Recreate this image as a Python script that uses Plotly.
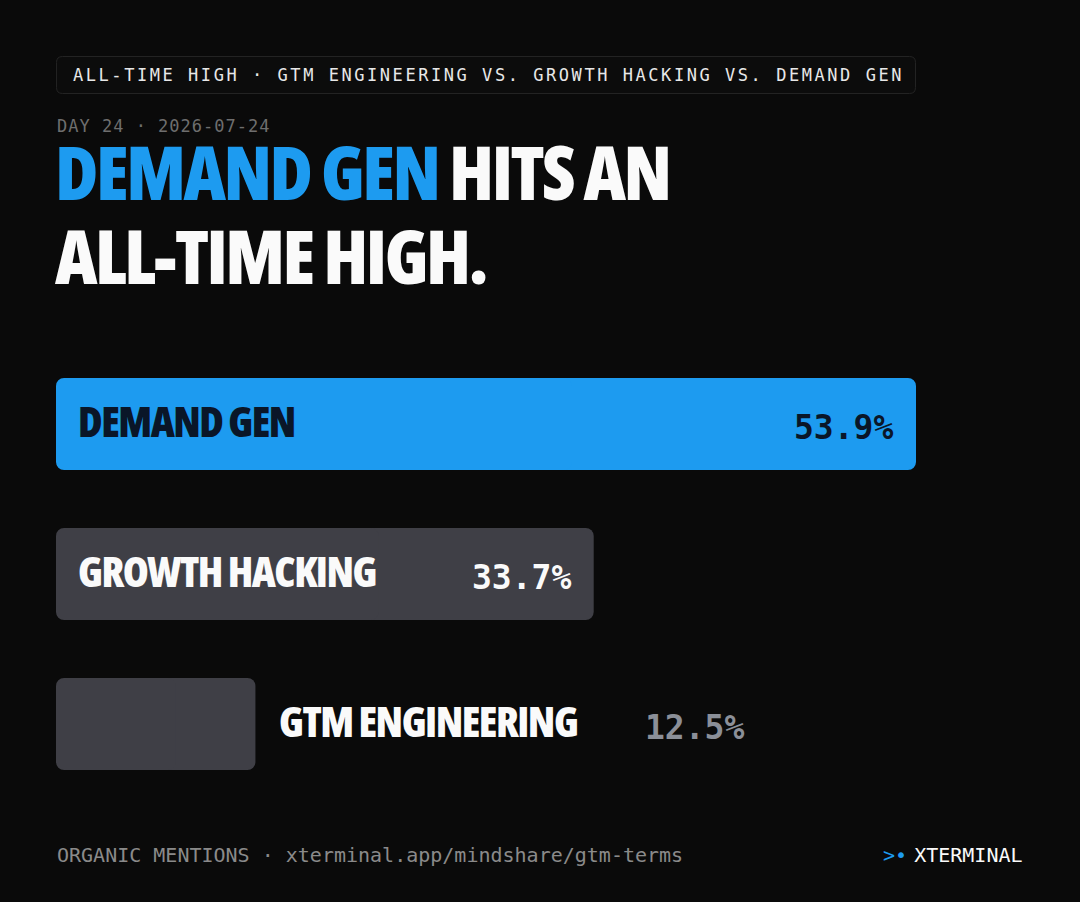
import plotly.graph_objects as go

# data
categories = ["DEMAND GEN", "GROWTH HACKING", "GTM ENGINEERING"]
shares = [53.9, 33.7, 12.5]
pct_labels = ["53.9%", "33.7%", "12.5%"]
badge_text = "ALL-TIME HIGH · GTM ENGINEERING VS. GROWTH HACKING VS. DEMAND GEN"
date_text = "DAY 24 · 2026-07-24"
title_hi = "DEMAND GEN"
title_rest = " HITS AN"
title_line2 = "ALL-TIME HIGH."
footer_text = "ORGANIC MENTIONS · xterminal.app/mindshare/gtm-terms"
brand_text = "XTERMINAL"

W, H = 1080, 902
BG = "#0a0a0a"
BLUE = "#1d9bf0"
GREY_BAR = "#3f3f46"
NAVY = "#0a1628"
COND = "Open Sans, Roboto Condensed, sans-serif"
MONO = "DejaVu Sans Mono, Liberation Mono, monospace"


def px(x):
    return x / W


def py(y):
    return 1 - y / H


def cond(text, spacing=0):
    # Open Sans is variable: squeeze it to its condensed width
    return '<span style="font-stretch:75%%;letter-spacing:%spx">%s</span>' % (spacing, text)


def round_rect(x0, y0, x1, y1, r):
    # rounded rectangle as a path in paper coordinates (given in pixels)
    pts = [
        ("M", x0 + r, y0), ("L", x1 - r, y0), ("Q", x1, y0, x1, y0 + r),
        ("L", x1, y1 - r), ("Q", x1, y1, x1 - r, y1), ("L", x0 + r, y1),
        ("Q", x0, y1, x0, y1 - r), ("L", x0, y0 + r), ("Q", x0, y0, x0 + r, y0),
    ]
    out = []
    for p in pts:
        cmd, vals = p[0], p[1:]
        coords = []
        for i in range(0, len(vals), 2):
            coords.append("%.5f,%.5f" % (px(vals[i]), py(vals[i + 1])))
        out.append(cmd + " ".join(coords))
    return " ".join(out) + " Z"


bar_colors = [BLUE if i == 0 else GREY_BAR for i in range(len(categories))]

# plotly only rounds the far end of a bar, so each bar is drawn as two
# overlapping halves: one grows right from 40%, one grows left from 60%
right_half_base = [v * 0.4 for v in shares]
right_half_len = [v * 0.6 for v in shares]
left_half_base = [v * 0.6 for v in shares]
left_half_len = [-v * 0.6 for v in shares]

fig = go.Figure()
fig.add_trace(go.Bar(
    name="right", x=right_half_len, base=right_half_base, y=categories, orientation="h",
    marker=dict(color=bar_colors, line=dict(width=0)), width=0.613, hoverinfo="skip",
))
fig.add_trace(go.Bar(
    name="left", x=left_half_len, base=left_half_base, y=categories, orientation="h",
    marker=dict(color=bar_colors, line=dict(width=0)), width=0.613, hoverinfo="skip",
))

annotations = []
for i, (cat, val, lab) in enumerate(zip(categories, shares, pct_labels)):
    inside = val > 20
    name_color = NAVY if i == 0 else "#fafafa"
    pct_color = NAVY if i == 0 else ("#fafafa" if inside else "#8b8f98")
    name_font = dict(family=COND, size=42, color=name_color, weight=800)
    pct_font = dict(family=MONO, size=33, color=pct_color, weight="bold")
    if inside:
        annotations.append(dict(x=0, y=cat, xref="x", yref="y", text=cond(cat, -1.5),
                                xanchor="left", yanchor="middle", xshift=20, yshift=4,
                                showarrow=False, font=name_font))
        annotations.append(dict(x=val, y=cat, xref="x", yref="y", text=lab,
                                xanchor="right", yanchor="middle", xshift=-21, yshift=-3,
                                showarrow=False, font=pct_font))
    else:
        annotations.append(dict(x=val, y=cat, xref="x", yref="y", text=cond(cat, -1.5),
                                xanchor="left", yanchor="middle", xshift=22, yshift=4,
                                showarrow=False, font=name_font))
        annotations.append(dict(x=val, y=cat, xref="x", yref="y", text=lab,
                                xanchor="left", yanchor="middle", xshift=388, yshift=-3,
                                showarrow=False, font=pct_font))

# badge, date, title, footer
annotations += [
    dict(x=px(71), y=py(75), xref="paper", yref="paper", showarrow=False,
         xanchor="left", yanchor="middle",
         text='<span style="letter-spacing:2.55px">' + badge_text + "</span>",
         font=dict(family=MONO, size=17, color="#e8e8e8")),
    dict(x=px(55), y=py(126), xref="paper", yref="paper", showarrow=False,
         xanchor="left", yanchor="middle",
         text='<span style="letter-spacing:1px">' + date_text + "</span>",
         font=dict(family=MONO, size=17, color="#6e6e6e")),
    dict(x=px(53), y=py(171), xref="paper", yref="paper", showarrow=False,
         xanchor="left", yanchor="middle",
         text=cond('<span style="fill:%s">%s</span>%s' % (BLUE, title_hi, title_rest), -2.5),
         font=dict(family=COND, size=74, color="#fafafa", weight=800)),
    dict(x=px(53), y=py(255), xref="paper", yref="paper", showarrow=False,
         xanchor="left", yanchor="middle", text=cond(title_line2, -2.5),
         font=dict(family=COND, size=74, color="#fafafa", weight=800)),
    dict(x=px(55), y=py(855), xref="paper", yref="paper", showarrow=False,
         xanchor="left", yanchor="middle", text=footer_text,
         font=dict(family=MONO, size=20, color="#8a8a8a")),
    dict(x=px(1025), y=py(855), xref="paper", yref="paper", showarrow=False,
         xanchor="right", yanchor="middle",
         text='<span style="fill:%s">&gt;•</span><span style="letter-spacing:-5px"> </span>%s'
              % (BLUE, brand_text),
         font=dict(family=MONO, size=20, color="#fafafa")),
]

fig.update_layout(
    width=W, height=H,
    paper_bgcolor=BG, plot_bgcolor=BG,
    margin=dict(l=0, r=0, t=0, b=0),
    showlegend=False,
    barmode="overlay",
    barcornerradius=8,
    xaxis=dict(domain=[px(56), px(916)], range=[0, 53.9], visible=False, fixedrange=True),
    yaxis=dict(domain=[py(799), py(349)], autorange="reversed", visible=False, fixedrange=True),
    annotations=annotations,
    shapes=[dict(type="path", xref="paper", yref="paper",
                 path=round_rect(56.5, 56.5, 915.5, 93.5, 6),
                 line=dict(color="#232323", width=1), fillcolor="#0c0c0c", layer="below")],
)

fig.write_html("out.html", config={"displayModeBar": False},
               post_script="document.body.style.margin='0px';")
